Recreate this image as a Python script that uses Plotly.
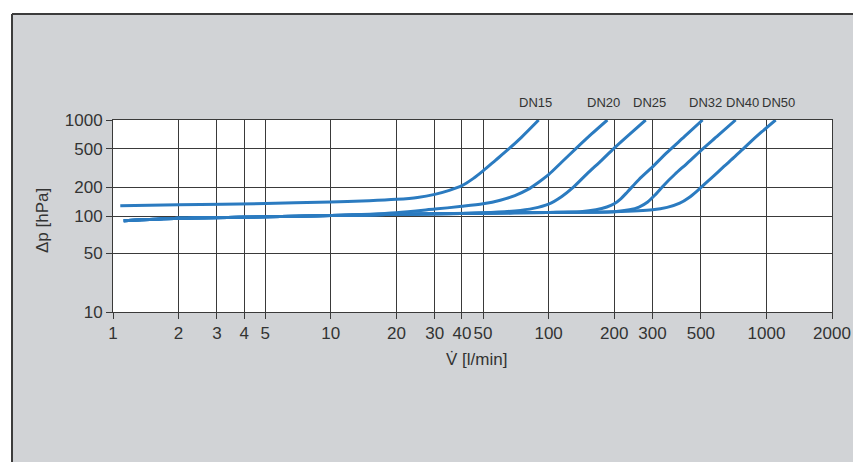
import numpy as np
import plotly.graph_objects as go

# ---------------- data ----------------
series_names = ["DN15", "DN20", "DN25", "DN32", "DN40", "DN50"]

dn15_x = [1.08, 2, 5, 10, 15, 20, 25, 30, 35, 40, 45, 50, 57, 65, 75, 90]
dn15_y = [128, 131, 135, 140, 144, 149, 156, 168, 185, 207, 245, 295, 380, 490, 660, 1000]

dn20_x = [1.12, 2, 5, 10, 20, 30, 40, 50, 60, 70, 80, 90, 100, 115, 133, 158, 186]
dn20_y = [89, 94.5, 98, 101, 108, 118, 126, 134, 146, 163, 188, 225, 270, 365, 500, 720, 1000]

dn25_x = [1.12, 2, 5, 10, 20, 50, 70, 85, 100, 115, 130, 150, 175, 200, 240, 279]
dn25_y = [89, 94.5, 98, 101, 104, 108, 113, 120, 133, 160, 200, 275, 380, 510, 740, 1000]

dn32_x = [1.12, 2, 5, 10, 20, 50, 100, 140, 165, 185, 200, 215, 230, 260, 300, 350, 420, 509]
dn32_y = [89, 94.5, 98, 101, 104, 107, 109, 111, 116, 124, 134, 152, 178, 240, 325, 460, 670, 1000]

dn40_x = [1.12, 2, 5, 10, 20, 50, 100, 200, 235, 260, 285, 310, 340, 380, 430, 500, 600, 722]
dn40_y = [89, 94.5, 98, 101, 104, 107, 109, 111, 116, 124, 140, 168, 212, 272, 350, 480, 690, 1000]

dn50_x = [1.12, 2, 5, 10, 20, 50, 100, 200, 300, 350, 400, 440, 480, 520, 560, 640, 720, 820, 950, 1102]
dn50_y = [89, 94.5, 98, 101, 104, 107, 109, 111, 116, 123, 136, 155, 182, 215, 250, 330, 420, 555, 750, 1000]

series_x = [dn15_x, dn20_x, dn25_x, dn32_x, dn40_x, dn50_x]
series_y = [dn15_y, dn20_y, dn25_y, dn32_y, dn40_y, dn50_y]

x_tick_vals = [1, 2, 3, 4, 5, 10, 20, 30, 40, 50, 100, 200, 300, 500, 1000, 2000]
x_tick_text = ["1", "2", "3", "4", "5", "10", "20", "30", "40", "50",
               "100", "200", "300", "500", "1000", "2000"]
# the reference draws its "50" grid line lower than a true log position
y_tick_vals = [10, 41, 100, 200, 500, 1000]
y_tick_text = ["10", "50", "100", "200", "500", "1000"]

x_title = "V\u0307 [l/min]"
y_title = "\u0394p [hPa]"

# ---------------- layout geometry ----------------
# the page body has an 8px margin, so the figure is 8px smaller than the window
OFF = 8
W, H = 861 - OFF, 462 - OFF
L, T = 113 - OFF, 120 - OFF
R, B = W - (832 - OFF), H - (312 - OFF)
PW, PH = W - L - R, H - T - B


def px_x(rp):
    """reference window pixel -> paper x"""
    return (rp - OFF - L) / PW


def px_y(rp):
    """reference window pixel -> paper y"""
    return (H - B - (rp - OFF)) / PH


LINE = "#2b7bc0"
TXT = "#333333"
GRID = "#3a3a3a"
PANEL = "#d1d3d6"
FONT = "Liberation Sans, Arial, sans-serif"

fig = go.Figure()
for name, xs, ys in zip(series_names, series_x, series_y):
    fig.add_trace(go.Scatter(
        x=xs, y=ys, mode="lines", name=name,
        line=dict(color=LINE, width=3, shape="spline", smoothing=0.8),
        showlegend=False, hoverinfo="x+y+name"))

label_shift = [-3, -4, 4, 3, 7, 3]
for name, xs, sh in zip(series_names, series_x, label_shift):
    fig.add_annotation(x=np.log10(xs[-1]), xref="x", y=px_y(103), yref="paper",
                       text=name, showarrow=False, xshift=sh,
                       font=dict(family=FONT, size=13, color=TXT),
                       xanchor="center", yanchor="middle")

fig.add_annotation(x=px_x(42), y=px_y(221), xref="paper", yref="paper",
                   text=y_title, textangle=-90, showarrow=False,
                   font=dict(family=FONT, size=17, color=TXT),
                   xanchor="center", yanchor="middle")
fig.add_annotation(x=px_x(477), y=px_y(359), xref="paper", yref="paper",
                   text=x_title, showarrow=False,
                   font=dict(family=FONT, size=17, color=TXT),
                   xanchor="center", yanchor="middle")

# white strips outside the grey panel + panel border (top and left)
shapes = [
    dict(type="rect", xref="paper", yref="paper", x0=px_x(-20), x1=px_x(12),
         y0=px_y(480), y1=px_y(-20), fillcolor="white", line_width=0, layer="below"),
    dict(type="rect", xref="paper", yref="paper", x0=px_x(-20), x1=px_x(880),
         y0=px_y(14), y1=px_y(-20), fillcolor="white", line_width=0, layer="below"),
    dict(type="line", xref="paper", yref="paper", x0=px_x(12), x1=px_x(880),
         y0=px_y(14), y1=px_y(14), line=dict(color="#3c3c3c", width=2)),
    dict(type="line", xref="paper", yref="paper", x0=px_x(12), x1=px_x(12),
         y0=px_y(14), y1=px_y(480), line=dict(color="#3c3c3c", width=2)),
]

fig.update_layout(
    width=W, height=H,
    margin=dict(l=L, r=R, t=T, b=B, pad=0),
    paper_bgcolor=PANEL, plot_bgcolor="white",
    shapes=shapes,
    font=dict(family=FONT, size=17, color=TXT),
    xaxis=dict(type="log", range=[0, np.log10(2000)], tickvals=x_tick_vals,
               ticktext=x_tick_text, showgrid=True, gridcolor=GRID, gridwidth=1,
               showline=True, linecolor=GRID, linewidth=1, mirror=True,
               ticks="outside", ticklen=6, tickcolor=GRID, zeroline=False,
               automargin=False, tickfont=dict(family=FONT, size=17, color=TXT)),
    yaxis=dict(type="log", range=[1, 3], tickvals=y_tick_vals,
               ticktext=y_tick_text, showgrid=True, gridcolor=GRID, gridwidth=1,
               showline=True, linecolor=GRID, linewidth=1, mirror=True,
               ticks="outside", ticklen=6, tickcolor=GRID, zeroline=False,
               automargin=False, tickfont=dict(family=FONT, size=17, color=TXT)),
)

fig.write_html("out.html")
